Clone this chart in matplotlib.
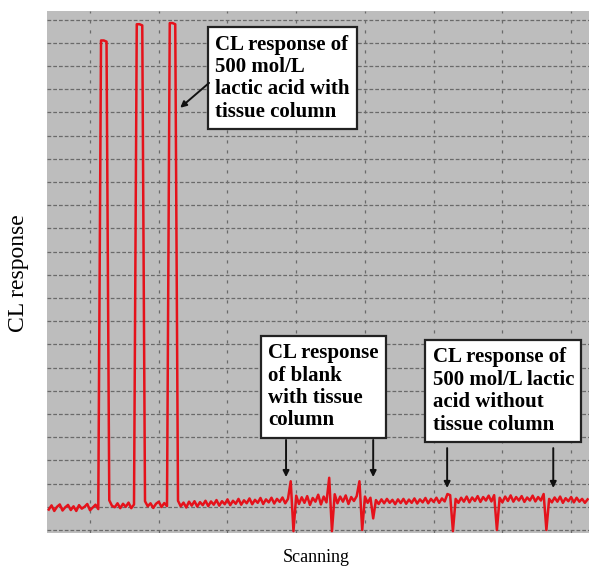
import matplotlib
matplotlib.use("Agg")
import matplotlib.pyplot as plt
import numpy as np

# CL signal, one value per sample (grid line every 25 samples)
response = [
    0.88, 1.06, 0.82, 1.00, 1.10, 0.84, 0.98, 1.08, 0.86, 1.02,
    0.82, 1.07, 0.92, 1.00, 1.12, 0.85, 0.97, 1.09, 0.90,
    21.1, 21.1, 21.05,                                   # peak 1
    1.28, 1.04, 0.98, 1.15, 0.94, 1.13, 1.00, 1.18, 0.94, 1.10,
    21.8, 21.8, 21.75,                                   # peak 2
    1.24, 1.02, 1.15, 0.95, 1.13, 1.22, 0.99, 1.16, 1.03,
    21.85, 21.85, 21.8,                                  # peak 3
    1.26, 1.02, 1.18, 0.97, 1.22, 1.05, 1.24, 1.01, 1.20, 1.07,
    1.26, 1.03, 1.23, 1.09, 1.29, 1.05, 1.24, 1.11, 1.32, 1.07,
    1.26, 1.13, 1.34, 1.09, 1.28, 1.15, 1.36, 1.11, 1.30, 1.17,
    1.38, 1.12, 1.32, 1.19, 1.39, 1.14, 1.34, 1.21, 1.40, 1.15, 1.34,
    2.10, -0.05,                                         # blank spike 1
    1.48, 1.12, 1.41, 1.17, 1.46, 1.08, 1.38, 1.22, 1.52, 1.10, 1.44, 1.19,
    2.25, -0.05,                                         # blank spike 2
    1.54, 1.15, 1.44, 1.22, 1.49, 1.12, 1.42, 1.25, 1.46,
    2.10, 0.00,                                          # blank spike 3
    1.44, 1.17, 1.39,
    0.50,
    1.29, 1.12, 1.32, 1.15, 1.34, 1.17, 1.30, 1.11, 1.32, 1.16,
    1.34, 1.13, 1.31, 1.17, 1.36, 1.14, 1.32, 1.19, 1.38, 1.15,
    1.34, 1.21, 1.39, 1.17, 1.36, 1.23, 1.55,
    1.50, -0.05,                                         # no-column dip 1
    1.34, 1.17, 1.39, 1.22, 1.44, 1.19, 1.40, 1.25, 1.46, 1.21,
    1.42, 1.27, 1.48, 1.23, 1.50,
    0.00,                                                # no-column dip 2
    1.39, 1.19, 1.44, 1.25, 1.49, 1.22, 1.42, 1.27, 1.46, 1.21,
    1.40, 1.27, 1.48, 1.23, 1.42, 1.27, 1.55,
    0.00,                                                # no-column dip 3
    1.34, 1.19, 1.40, 1.22, 1.44, 1.17, 1.37, 1.24, 1.42, 1.19,
    1.39, 1.22, 1.34, 1.17, 1.32,
]
scan = np.arange(len(response))

box_texts = [
    "CL response of\n500 mol/L\nlactic acid with\ntissue column",
    "CL response\nof blank\nwith tissue\ncolumn",
    "CL response of\n500 mol/L lactic\nacid without\ntissue column",
]
# where each box sits (scan, response) - top left corner of the text
box_pos = [(60.6, 21.35), (79.9, 8.05), (139.6, 7.87)]
# arrows: (tip scan, tip resp, tail scan, tail resp)
arrows = [
    (47.8, 18.2, 58.3, 19.27),
    (86.3, 2.28, 86.3, 3.88),
    (118.0, 2.28, 118.0, 3.88),
    (144.9, 1.81, 144.9, 3.53),
    (183.5, 1.81, 183.5, 3.53),
]

fig = plt.figure(figsize=(5.89, 5.74), dpi=100)
ax = fig.add_axes([47 / 589, 41 / 574, 542 / 589, 522 / 574])
ax.set_facecolor("#bdbdbd")

ax.set_xlim(-0.65, 196.5)
ax.set_ylim(-0.13, 22.37)
ax.set_xticks(np.arange(15, 197, 25))
ax.set_yticks(np.arange(0, 23, 1))
ax.tick_params(length=0, labelbottom=False, labelleft=False)
for s in ax.spines.values():
    s.set_visible(False)

ax.grid(axis="y", color="#6a6a6a", linestyle=(0, (3, 1.6)), linewidth=0.9)
ax.grid(axis="x", color="#6a6a6a", linestyle=(0, (2.5, 5.5)), linewidth=0.9)
ax.set_axisbelow(True)

ax.plot(scan, response, color="#e5121b", linewidth=1.8)

for txt, (bx, by) in zip(box_texts, box_pos):
    ax.text(bx, by, txt, ha="left", va="top", fontsize=15, fontweight="bold",
            family="Liberation Serif", linespacing=1.16,
            bbox=dict(boxstyle="square,pad=0.35", facecolor="white",
                      edgecolor="#222222", linewidth=1.6))

for tx, ty, sx, sy in arrows:
    ax.annotate("", xy=(tx, ty), xytext=(sx, sy),
                arrowprops=dict(arrowstyle="-|>", color="#111111", lw=1.4,
                                mutation_scale=9, shrinkA=0, shrinkB=0))

fig.text(19 / 589, 1 - 273 / 574, "CL response", rotation=90, ha="center",
         va="center", fontsize=17, family="Liberation Serif")
fig.text(316 / 589, 1 - 557 / 574, "Scanning", ha="center", va="center",
         fontsize=13, family="Liberation Serif")

fig.savefig("out.png", dpi=100)
